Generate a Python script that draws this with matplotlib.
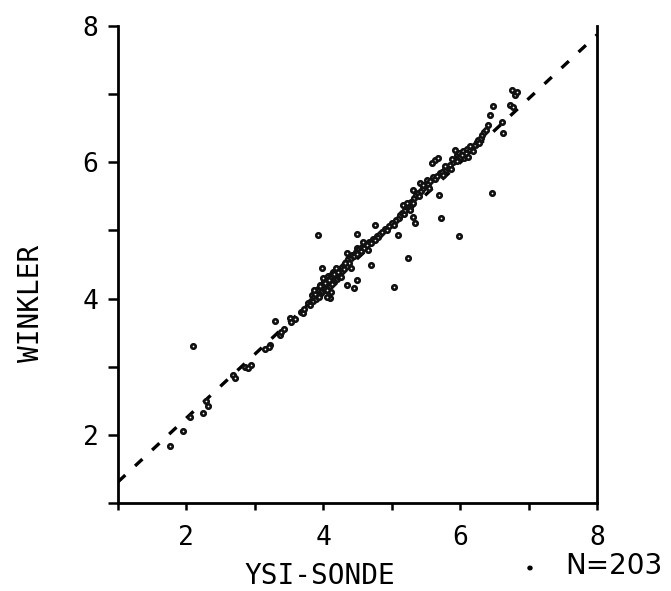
import matplotlib
matplotlib.use("Agg")
import matplotlib.pyplot as plt
from matplotlib.ticker import FixedLocator, NullFormatter

# ---- data ----
ysi = [
    1.76, 1.95, 2.05, 2.10, 2.24, 2.29, 2.32, 2.68, 2.71, 2.86, 2.94, 2.90, 3.15, 3.22, 3.20,
    3.29, 3.37, 3.38, 3.42, 3.51, 3.53, 3.58, 3.67, 3.70, 3.72, 3.78, 3.80,
    3.82, 3.84, 3.85, 3.86, 3.88, 3.89, 3.90, 3.91, 3.92, 3.93, 3.94, 3.95, 3.96, 3.97, 3.98,
    3.99, 4.00, 4.01, 4.02, 4.03, 4.04, 4.05, 4.06, 4.07, 4.08, 4.09, 4.10, 4.11, 4.12, 4.13,
    4.14, 4.15, 4.16, 4.17, 4.18, 4.19, 4.20, 4.21, 4.22, 4.23, 4.24, 4.25, 4.27, 4.28, 4.30,
    4.31, 4.33, 4.35, 4.36, 4.38, 4.40, 4.42,
    3.98, 3.92, 4.10, 4.05, 4.12, 4.35, 4.45, 4.50, 4.35, 4.49, 4.49, 4.70, 4.76, 5.03, 5.24,
    5.09, 5.34,
    4.45, 4.48, 4.50, 4.52, 4.55, 4.57, 4.60, 4.62, 4.65, 4.67, 4.70, 4.72, 4.75, 4.78, 4.80,
    4.83, 4.86, 4.90, 4.93, 4.96, 5.00, 5.03, 5.06, 5.10, 5.12, 5.15, 5.18, 5.20, 5.22, 5.24,
    5.26, 5.28, 5.31,
    5.17, 5.22, 5.27, 5.31, 5.31, 5.33, 5.35, 5.38, 5.41, 5.43, 5.45, 5.48, 5.51, 5.53, 5.56,
    5.59, 5.60, 5.63, 5.63, 5.66, 5.68, 5.69, 5.70, 5.72, 5.73, 5.75, 5.78, 5.80, 5.82, 5.85,
    5.87, 5.90, 5.92, 5.94, 5.96, 5.97, 5.99, 6.00, 6.02, 6.04, 6.05, 6.07, 6.09, 6.10, 6.12,
    6.14, 6.17, 6.19, 6.21, 6.24, 6.26, 6.28, 6.30, 6.32, 6.35, 6.38, 6.41, 6.44, 6.48, 6.47,
    5.99, 6.61, 6.63, 6.73, 6.77, 6.76, 6.80, 6.83,
    3.88, 3.95, 4.02, 4.08, 4.15, 4.22, 5.95, 6.03,
    3.86, 3.94, 4.00, 4.06, 4.13, 4.19, 4.26, 4.32, 4.40, 4.58, 4.64, 5.40, 5.46, 5.55, 5.78,
    5.88, 6.15,
]
winkler = [
    1.84, 2.06, 2.26, 3.30, 2.32, 2.50, 2.42, 2.88, 2.83, 3.00, 3.03, 2.98, 3.26, 3.32, 3.29,
    3.67, 3.47, 3.51, 3.55, 3.71, 3.66, 3.70, 3.80, 3.79, 3.85, 3.94, 3.90,
    3.97, 4.05, 3.96, 4.02, 4.08, 4.00, 4.10, 4.04, 4.14, 4.06, 4.12, 4.20, 4.08, 4.16, 4.11,
    4.22, 4.15, 4.26, 4.13, 4.20, 4.30, 4.18, 4.24, 4.33, 4.21, 4.28, 4.19, 4.35, 4.26, 4.31,
    4.39, 4.24, 4.34, 4.29, 4.40, 4.33, 4.28, 4.44, 4.36, 4.31, 4.42, 4.38, 4.47, 4.40, 4.50,
    4.44, 4.53, 4.48, 4.58, 4.52, 4.60, 4.64,
    4.45, 4.93, 4.01, 4.03, 4.10, 4.20, 4.16, 4.27, 4.67, 4.74, 4.95, 4.49, 5.08, 4.17, 4.60,
    4.93, 5.11,
    4.62, 4.68, 4.66, 4.73, 4.70, 4.76, 4.74, 4.80, 4.72, 4.83, 4.82, 4.88, 4.86, 4.92, 4.90,
    4.95, 4.97, 5.02, 5.00, 5.07, 5.11, 5.08, 5.16, 5.18, 5.22, 5.26, 5.24, 5.30, 5.34, 5.38,
    5.32, 5.42, 5.40,
    5.37, 5.40, 5.30, 5.20, 5.59, 5.48, 5.52, 5.55, 5.70, 5.58, 5.62, 5.66, 5.74, 5.68, 5.72,
    5.99, 5.79, 6.03, 5.76, 5.80, 6.06, 5.52, 5.84, 5.18, 5.86, 5.82, 5.90, 5.88, 5.92, 5.96,
    5.90, 6.00, 6.18, 6.04, 6.10, 6.06, 6.14, 6.08, 6.12, 6.16, 6.06, 6.11, 6.14, 6.20, 6.08,
    6.18, 6.22, 6.16, 6.26, 6.30, 6.33, 6.28, 6.36, 6.40, 6.44, 6.48, 6.55, 6.69, 6.83, 5.55,
    4.92, 6.59, 6.43, 6.84, 6.81, 7.06, 6.99, 7.03,
    4.06, 4.18, 4.23, 4.27, 4.36, 4.39, 6.02, 6.10,
    4.12, 4.02, 4.30, 4.12, 4.22, 4.45, 4.32, 4.52, 4.45, 4.83, 4.78, 5.50, 5.66, 5.62, 5.95,
    6.05, 6.24,
]
fit_x = [1.0, 8.0]
fit_y = [1.31, 7.87]
x_labels = [2, 4, 6, 8]
y_labels = [2, 4, 6, 8]
all_ticks = [1, 2, 3, 4, 5, 6, 7, 8]
n_label = "N=203"

mono = "DejaVu Sans Mono"

fig = plt.figure(figsize=(6.71, 5.91), dpi=100)
ax = fig.add_axes([118 / 671, 1 - 503 / 591, (597 - 118) / 671, (503 - 26) / 591])

ax.plot(fit_x, fit_y, color="black", lw=2.4, linestyle=(0, (3.0, 4.0)), zorder=2)
ax.plot(ysi, winkler, linestyle="none", marker="o", ms=3.2, mfc="white",
        mec="#111111", mew=1.9, zorder=3)

ax.set_xlim(1, 8)
ax.set_ylim(1, 8)
ax.spines["top"].set_visible(False)
for s in ("left", "bottom", "right"):
    ax.spines[s].set_linewidth(2.0)
    ax.spines[s].set_color("black")

ax.xaxis.set_major_locator(FixedLocator(x_labels))
ax.yaxis.set_major_locator(FixedLocator(y_labels))
ax.xaxis.set_minor_locator(FixedLocator([t for t in all_ticks if t not in x_labels]))
ax.yaxis.set_minor_locator(FixedLocator([t for t in all_ticks if t not in y_labels]))
ax.xaxis.set_minor_formatter(NullFormatter())
ax.yaxis.set_minor_formatter(NullFormatter())
ax.set_xticklabels([str(v) for v in x_labels])
ax.set_yticklabels([str(v) for v in y_labels])

ax.tick_params(axis="x", which="both", direction="out", length=5, width=1.8,
               pad=11, labelsize=19)
ax.tick_params(axis="y", which="both", direction="out", length=7, width=1.8,
               pad=7, labelsize=19)
ax.tick_params(right=False, top=False)
for lab in ax.get_xticklabels() + ax.get_yticklabels():
    lab.set_family(mono)

fig.text(320 / 671, 1 - 576 / 591, "YSI-SONDE", family=mono, fontsize=20,
         ha="center", va="center")
fig.text(31 / 671, 1 - 303 / 591, "WINKLER", family=mono, fontsize=20,
         ha="center", va="center", rotation=90)
fig.text(565 / 671, 1 - 566 / 591, n_label, family="DejaVu Sans", fontsize=20,
         ha="left", va="center")
fig.patches.append(matplotlib.patches.Circle((530 / 671, 1 - 568 / 591), 0.003,
                                             transform=fig.transFigure,
                                             color="black", figure=fig))

fig.savefig("out.png", dpi=100, facecolor="white")
